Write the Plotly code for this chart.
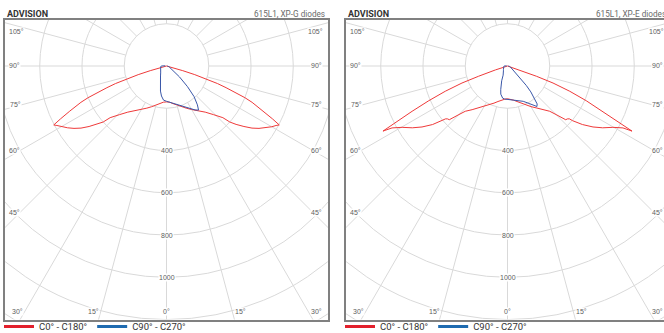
import numpy as np
import plotly.graph_objects as go

# ---------------- data (gamma = angle from nadir in degrees, cd = intensity) ----------------
brand = "ADVISION"
panel_titles = ["615L1, XP-G diodes", "615L1, XP-E diodes"]
legend_names = ["C0° - C180°", "C90° - C270°"]
radial_ticks = [400, 600, 800, 1000]
grid_circles = [200, 400, 600, 800, 1000, 1200, 1400, 1600]
angle_labels = ["105°", "90°", "75°", "60°", "45°", "30°", "15°", "0°",
                "15°", "30°", "45°", "60°", "75°", "90°", "105°"]

# Panel 1: XP-G
xpg_c0c180_gamma = [0, 5, 10, 15, 20, 25, 30, 35, 40, 44, 46, 47.5, 48.5, 50, 52, 54, 56, 58,
                    60, 61.5, 62.4, 63.5, 65, 66, 67, 68, 69, 70, 71, 72, 73, 74, 75, 76, 90]
xpg_c0c180_cd = [170, 172, 181, 192, 205, 220, 238, 258, 285, 320, 340, 362, 400, 430, 465, 500, 528, 552,
                 575, 590, 602, 560, 505, 475, 440, 400, 350, 300, 255, 200, 140, 80, 30, 0, 0]
xpg_c90_gamma = [0, 5, 10, 15, 20, 25, 30, 33, 36, 38.5, 42, 45.5, 50, 55, 60, 70, 80, 90]
xpg_c90_cd = [167, 172, 178, 188, 200, 213, 233, 248, 258, 235, 195, 139, 80, 45, 26, 14, 8, 4]
xpg_c270_gamma = [0, 5, 9.5, 13.5, 18.5, 24, 31, 40, 50, 60, 70, 80, 90, 95, 100]
xpg_c270_cd = [167, 162, 144, 122, 90, 70, 55, 43, 37, 33, 30, 28, 25, 16, 6]

# Panel 2: XP-E
xpe_c0c180_gamma = [0, 5, 10, 15, 20, 25, 30, 35, 39, 43, 45, 47.3, 48.5, 49.5, 50, 52, 54.5, 57,
                    59.8, 61.8, 62.4, 63.1, 64.6, 66.2, 67.9, 69.5, 70.5, 72, 73.5, 75, 90]
xpe_c0c180_cd = [155, 158, 164, 174, 187, 203, 222, 243, 266, 293, 325, 375, 378, 385, 403, 450, 497, 537,
                 577, 620, 665, 596, 500, 407, 318, 230, 145, 60, 10, 0, 0]
xpe_c90_gamma = [0, 10, 20, 24, 30, 34, 36, 38, 40, 42, 44, 46, 48, 52, 60, 70, 80, 90]
xpe_c90_cd = [158, 165, 177, 183, 205, 222, 237, 228, 198, 165, 128, 90, 62, 42, 25, 15, 9, 4]
xpe_c270_gamma = [0, 5, 8.5, 13.4, 16, 19, 21.5, 25.5, 30, 40, 50, 60, 70, 80, 90, 95, 100]
xpe_c270_cd = [158, 157, 154, 137, 116, 95, 75, 48, 38, 30, 25, 22, 20, 18, 16, 10, 4]

# ---------------- layout constants ----------------
W, H = 664, 333
S = 0.2113            # pixels per cd
TOP, BOTTOM = 20, 319.5
CY = 66
panels = [dict(left=5, right=328, cx=166.5), dict(left=346, right=669, cx=507.5)]

RED_LINE = "#ee3a3a"
BLUE_LINE = "#3a57a8"
RED_LEG = "#e2202c"
BLUE_LEG = "#1f6bb0"
GRID = "#d9d9d9"
FRAME = "#808080"
HEAD = "Roboto, Liberation Sans, sans-serif"
SMALL = "Liberation Sans, Arial, sans-serif"


def half(gamma, cd, side):
    g = np.radians(np.asarray(gamma, float))
    c = np.asarray(cd, float)
    return side * c * np.sin(g), -c * np.cos(g)


def closed_curve(g_left, cd_left, g_right, cd_right):
    xl, yl = half(g_left, cd_left, -1)
    xr, yr = half(g_right, cd_right, 1)
    return np.concatenate([xl[::-1], xr]), np.concatenate([yl[::-1], yr])


datasets = [
    (xpg_c0c180_gamma, xpg_c0c180_cd, xpg_c270_gamma, xpg_c270_cd, xpg_c90_gamma, xpg_c90_cd),
    (xpe_c0c180_gamma, xpe_c0c180_cd, xpe_c270_gamma, xpe_c270_cd, xpe_c90_gamma, xpe_c90_cd),
]

# label pixel offsets from the panel centre (dx, dy)
angle_label_px = [(-150, -34.5), (-152, -0.5), (-151.5, 38.5), (-152, 84.5), (-152.5, 146.5),
                  (-149.5, 245.5), (-73.5, 245.5), (0, 245.5), (73.5, 245.5), (149.5, 245.5),
                  (150, 146.5), (149.5, 84.5), (149.5, 38.5), (149.5, -0.5), (148.5, -34.5)]

fig = go.Figure()
shapes, annotations = [], []
layout_axes = {}

for i, (p, d) in enumerate(zip(panels, datasets)):
    n = "" if i == 0 else str(i + 1)
    xa, ya = "x" + n, "y" + n
    right_px = min(p["right"], W)
    layout_axes["xaxis" + n] = dict(
        domain=[p["left"] / W, right_px / W],
        range=[-(p["cx"] - p["left"]) / S, (right_px - p["cx"]) / S],
        anchor=ya, showgrid=False, zeroline=False, showticklabels=False, ticks="",
        showline=True, mirror=True, linecolor=FRAME, linewidth=1.5, fixedrange=True)
    layout_axes["yaxis" + n] = dict(
        domain=[(H - BOTTOM) / H, (H - TOP) / H],
        range=[-(BOTTOM - CY) / S, (CY - TOP) / S],
        anchor=xa, showgrid=False, zeroline=False, showticklabels=False, ticks="",
        showline=True, mirror=True, linecolor=FRAME, linewidth=1.5, fixedrange=True)

    # polar grid
    for r in grid_circles:
        shapes.append(dict(type="circle", xref=xa, yref=ya, x0=-r, x1=r, y0=-r, y1=r,
                           line=dict(color=GRID, width=1), layer="below"))
    for a in range(0, 360, 15):
        t = np.radians(a)
        shapes.append(dict(type="line", xref=xa, yref=ya,
                           x0=200 * np.sin(t), y0=-200 * np.cos(t),
                           x1=1800 * np.sin(t), y1=-1800 * np.cos(t),
                           line=dict(color=GRID, width=1), layer="below"))

    g_red, cd_red, g_270, cd_270, g_90, cd_90 = d
    rx, ry = closed_curve(g_red, cd_red, g_red, cd_red)
    bx, by = closed_curve(g_270, cd_270, g_90, cd_90)
    fig.add_trace(go.Scatter(x=rx, y=ry, mode="lines", xaxis=xa, yaxis=ya,
                             line=dict(color=RED_LINE, width=1), showlegend=False, hoverinfo="skip"))
    fig.add_trace(go.Scatter(x=bx, y=by, mode="lines", xaxis=xa, yaxis=ya,
                             line=dict(color=BLUE_LINE, width=1), showlegend=False, hoverinfo="skip"))

    leg = "legend" if i == 0 else "legend2"
    for name, col in zip(legend_names, [RED_LEG, BLUE_LEG]):
        fig.add_trace(go.Scatter(x=[None], y=[None], mode="lines", xaxis=xa, yaxis=ya,
                                 line=dict(color=col, width=3), name=name, legend=leg))

    # radial labels
    for r in radial_ticks:
        annotations.append(dict(x=0, y=-r, xref=xa, yref=ya, text=str(r), showarrow=False,
                                bgcolor="white", borderpad=0,
                                font=dict(family=SMALL, size=7, color="#606060")))
    # angle labels
    for txt, (dx, dy) in zip(angle_labels, angle_label_px):
        annotations.append(dict(x=dx / S, y=-dy / S, xref=xa, yref=ya, text=txt, showarrow=False,
                                bgcolor="white", borderpad=0,
                                font=dict(family=SMALL, size=7, color="#606060")))
    # header
    annotations.append(dict(x=(p["left"] - 0.5) / W, y=(H - 13.5) / H, xref="paper", yref="paper",
                            xanchor="left", yanchor="middle", text="<b>" + brand + "</b>",
                            showarrow=False, font=dict(family=HEAD, size=9, color="#333")))
    annotations.append(dict(x=(p["right"] - 1.5) / W, y=(H - 13.5) / H, xref="paper", yref="paper",
                            xanchor="right", yanchor="middle", text=panel_titles[i],
                            showarrow=False, font=dict(family=HEAD, size=8.2, color="#6a6a6a")))

legend_common = dict(orientation="h", yanchor="middle", y=(H - 326.5) / H, xanchor="left",
                     bgcolor="rgba(0,0,0,0)", borderwidth=0, itemwidth=30, tracegroupgap=0,
                     font=dict(family=HEAD, size=9.5, color="#333"))

fig.update_layout(
    width=W, height=H, margin=dict(l=0, r=0, t=0, b=0, autoexpand=False),
    paper_bgcolor="white", plot_bgcolor="white",
    shapes=shapes, annotations=annotations,
    legend=dict(x=-1 / W, **legend_common),
    legend2=dict(x=340 / W, **legend_common),
    **layout_axes,
)

fig.write_html("out.html", config={"displayModeBar": False},
               post_script="document.body.style.margin='0';document.body.style.overflow='hidden';")
